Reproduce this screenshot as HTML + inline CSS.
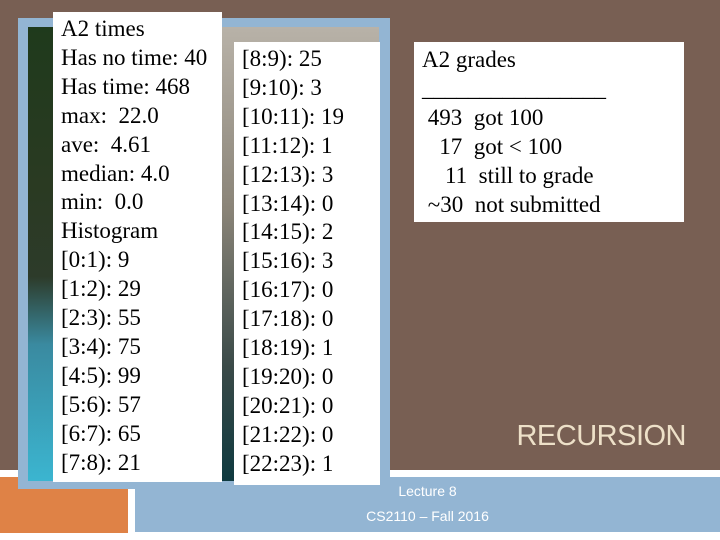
<!DOCTYPE html>
<html><head><style>
body{margin:0;width:720px;height:540px;overflow:hidden;background:#fff;position:relative;font-family:"Liberation Serif",serif;}
div{position:absolute;box-sizing:border-box;}
.t{font-size:23px;line-height:28.9px;color:#000;white-space:pre;}
</style></head><body>
<div style="left:0;top:0;width:720px;height:470px;background:#785f53"></div>
<div style="left:0;top:477px;width:128px;height:56px;background:#df8246"></div>
<div style="left:135px;top:477px;width:585px;height:55px;background:#93b5d3"></div>
<div style="left:18px;top:18px;width:372px;height:471px;background:#93b5d3"></div>
<div style="left:28px;top:27px;width:351px;height:454px;background:linear-gradient(180deg,#1f3a1c 0%,#2a3a22 35%,#2d3b2a 55%,#3a8aa0 70%,#3bb5d0 100%)"></div>
<div style="left:222px;top:27px;width:157px;height:454px;background:linear-gradient(180deg,#b8b2a8 0%,#8a8478 40%,#3a4a48 75%,#0f3a40 100%)"></div>
<div class="t" style="left:53px;top:12px;width:169px;height:470px;background:#fff;padding:3px 0 0 8px">A2 times
Has no time: 40
Has time: 468
max:  22.0
ave:  4.61
median: 4.0
min:  0.0
Histogram
[0:1): 9
[1:2): 29
[2:3): 55
[3:4): 75
[4:5): 99
[5:6): 57
[6:7): 65
[7:8): 21</div>
<div class="t" style="left:234px;top:42px;width:146px;height:443px;background:#fff;padding:3px 0 0 8px">[8:9): 25
[9:10): 3
[10:11): 19
[11:12): 1
[12:13): 3
[13:14): 0
[14:15): 2
[15:16): 3
[16:17): 0
[17:18): 0
[18:19): 1
[19:20): 0
[20:21): 0
[21:22): 0
[22:23): 1</div>
<div class="t" style="left:414px;top:42px;width:270px;height:180px;background:#fff;padding:4px 0 0 8px">A2 grades
________________
 493  got 100
   17  got &lt; 100
    11  still to grade
 ~30  not submitted</div>
<div style="left:480px;top:420px;width:206px;text-align:right;font-family:'Liberation Sans',sans-serif;font-size:29px;color:#ede0c8;letter-spacing:-0.5px">RECURSION</div>
<div style="left:135px;top:479px;width:585px;text-align:center;font-family:'Liberation Sans',sans-serif;font-size:14px;color:#fff;line-height:25px">Lecture 8<br>CS2110 – Fall 2016</div>
</body></html>
